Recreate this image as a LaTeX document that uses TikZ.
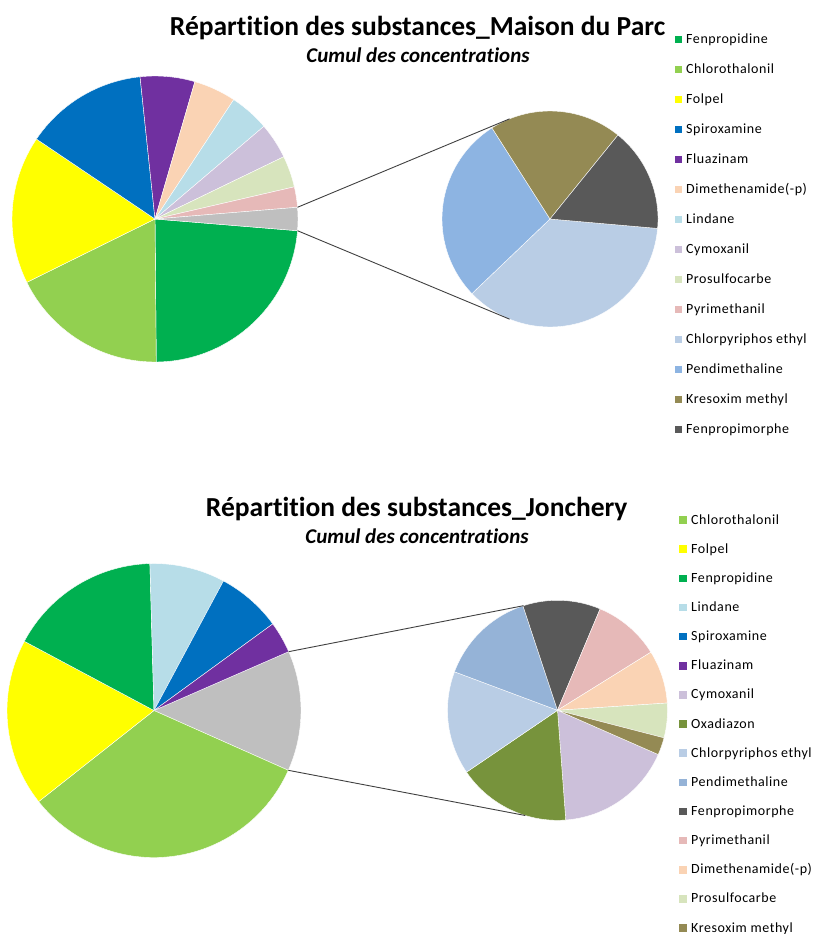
\documentclass[tikz,border=0pt]{standalone}
\usepackage{fontspec}
\setmainfont{Carlito}[Ligatures=NoCommon]
\usetikzlibrary{calc}
\definecolor{fenpropidine}{HTML}{00B050}
\definecolor{chlorothalonil}{HTML}{92D050}
\definecolor{folpel}{HTML}{FFFF00}
\definecolor{spiroxamine}{HTML}{0070C0}
\definecolor{fluazinam}{HTML}{7030A0}
\definecolor{dimethenamide}{HTML}{FAD3B4}
\definecolor{lindane}{HTML}{B7DDE8}
\definecolor{cymoxanil}{HTML}{CCC0DA}
\definecolor{prosulfocarbe}{HTML}{D7E4BD}
\definecolor{pyrimethanil}{HTML}{E6B9B8}
\definecolor{chlorpyriphos}{HTML}{B9CDE5}
\definecolor{pendiparc}{HTML}{8DB4E2}
\definecolor{pendijon}{HTML}{95B3D7}
\definecolor{kresoxim}{HTML}{948A54}
\definecolor{fenpropimorphe}{HTML}{595959}
\definecolor{oxadiazon}{HTML}{77933C}
\definecolor{autres}{HTML}{BFBFBF}
\newcommand{\parcmainr}{143}
\newcommand{\parcsubr}{108}
\newcommand{\jonmainr}{147}
\newcommand{\jonsubr}{110}
\newcommand{\legendstep}{30}
\newcommand{\legendstepj}{29.15}
% one slice: centre, start angle, end angle, radius, colour
\newcommand{\pieslice}[5]{
  \filldraw[fill=#5, draw=white, line width=0.4pt] (#1) -- ($(#1)+(#2:#4)$)
    arc[start angle=#2, end angle=#3, radius=#4] -- cycle;
}
\tikzset{
  charttitle/.style={anchor=base, font=\fontsize{27.5}{31}\selectfont\bfseries},
  chartsub/.style={anchor=base, font=\fontsize{21}{24}\selectfont\bfseries\itshape},
  legendkey/.style={minimum size=7.5pt, inner sep=0pt},
  legendtext/.style={anchor=base west, inner sep=0pt,
    font=\fontsize{14}{16}\selectfont\addfontfeatures{LetterSpace=4}},
  connector/.style={draw=black!75, line width=0.9pt}
}

\begin{document}
\begin{tikzpicture}[x=1pt, y=1pt]
    \useasboundingbox (0,0) rectangle (815,-934);
    \coordinate (parcmain) at (155,-219);
    \coordinate (parcsub) at (550,-219);
    \coordinate (jonmain) at (154,-710.5);
    \coordinate (jonsub) at (557.5,-710.3);

    % maison du parc
    \node[charttitle] (parctitle) at (417.5,-36)
      {Répartition des substances\_Maison du Parc};
    \node[chartsub] (parcsubtitle) at (418,-62.3) {Cumul des concentrations};
    \foreach \a/\b/\col in {355.3/270.5/fenpropidine, 270.5/206.3/chlorothalonil,
        206.3/146/folpel, 146/96/spiroxamine, 96/73.8/fluazinam,
        73.8/56.6/dimethenamide, 56.6/40.4/lindane, 40.4/25.8/cymoxanil,
        25.8/13/prosulfocarbe, 13/4.7/pyrimethanil, 4.7/-4.7/autres}
      {\pieslice{parcmain}{\a}{\b}{\parcmainr}{\col}}
    \foreach \a/\b/\col in {-5/-136.3/chlorpyriphos, -136.3/-237.5/pendiparc,
        -237.5/-309/kresoxim, -309/-365/fenpropimorphe}
      {\pieslice{parcsub}{\a}{\b}{\parcsubr}{\col}}
    \coordinate (parcmaintop) at ($(parcmain)+(4.7:\parcmainr)$);
    \coordinate (parcmainbot) at ($(parcmain)+(-4.7:\parcmainr)$);
    \coordinate (parcsubtop) at ($(parcsub)+(112:\parcsubr)$);
    \coordinate (parcsubbot) at ($(parcsub)+(-112:\parcsubr)$);
    \draw[connector] (parcmaintop) -- (parcsubtop);
    \draw[connector] (parcmainbot) -- (parcsubbot);
    \foreach \name/\col [count=\i from 0] in {Fenpropidine/fenpropidine,
        Chlorothalonil/chlorothalonil, Folpel/folpel, Spiroxamine/spiroxamine,
        Fluazinam/fluazinam, Dimethenamide(-p)/dimethenamide, Lindane/lindane,
        Cymoxanil/cymoxanil, Prosulfocarbe/prosulfocarbe,
        Pyrimethanil/pyrimethanil, Chlorpyriphos ethyl/chlorpyriphos,
        Pendimethaline/pendiparc, Kresoxim methyl/kresoxim,
        Fenpropimorphe/fenpropimorphe}
    {
      \node[legendkey, fill=\col] (parckey\i) at (678.3,-39.5-\legendstep*\i) {};
      \node[legendtext] (parclabel\i) at (686,-43.5-\legendstep*\i) {\name};
    }

    % jonchery
    \node[charttitle] (jontitle) at (416.7,-516)
      {Répartition des substances\_Jonchery};
    \node[chartsub] (jonsubtitle) at (417,-543.3) {Cumul des concentrations};
    \foreach \a/\b/\col in {23.6/-24/autres, -24/-141.7/chlorothalonil,
        -141.7/-208.1/folpel, -208.1/-268.4/fenpropidine,
        -268.4/-298.2/lindane, -298.2/-323.9/spiroxamine,
        -323.9/-336.4/fluazinam}
      {\pieslice{jonmain}{\a}{\b}{\jonmainr}{\col}}
    \foreach \a/\b/\col in {-23.7/-85.7/cymoxanil, -85.7/-145.8/oxadiazon,
        -145.8/-200.5/chlorpyriphos, -200.5/-251.7/pendijon,
        -251.7/-292.8/fenpropimorphe, -292.8/-328.1/pyrimethanil,
        -328.1/-356.2/dimethenamide, -356.2/-374.5/prosulfocarbe,
        -374.5/-383.7/kresoxim}
      {\pieslice{jonsub}{\a}{\b}{\jonsubr}{\col}}
    \coordinate (jonmaintop) at ($(jonmain)+(23.6:\jonmainr)$);
    \coordinate (jonmainbot) at ($(jonmain)+(-24:\jonmainr)$);
    \coordinate (jonsubtop) at ($(jonsub)+(108:\jonsubr)$);
    \coordinate (jonsubbot) at ($(jonsub)+(-107:\jonsubr)$);
    \draw[connector] (jonmaintop) -- (jonsubtop);
    \draw[connector] (jonmainbot) -- (jonsubbot);
    \foreach \name/\col [count=\i from 0] in {Chlorothalonil/chlorothalonil,
        Folpel/folpel, Fenpropidine/fenpropidine, Lindane/lindane,
        Spiroxamine/spiroxamine, Fluazinam/fluazinam, Cymoxanil/cymoxanil,
        Oxadiazon/oxadiazon, Chlorpyriphos ethyl/chlorpyriphos,
        Pendimethaline/pendijon, Fenpropimorphe/fenpropimorphe,
        Pyrimethanil/pyrimethanil, Dimethenamide(-p)/dimethenamide,
        Prosulfocarbe/prosulfocarbe, Kresoxim methyl/kresoxim}
    {
      \node[legendkey, fill=\col] (jonkey\i) at (683,-520-\legendstepj*\i) {};
      \node[legendtext] (jonlabel\i) at (691,-524-\legendstepj*\i) {\name};
    }
  \end{tikzpicture}
\end{document}
